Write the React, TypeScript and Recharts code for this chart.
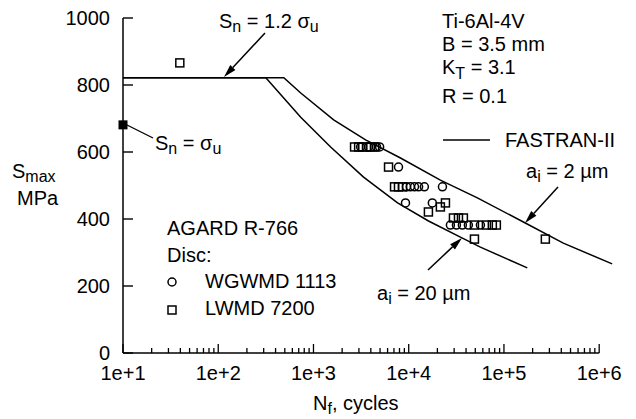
import React from "react";
import {
  ComposedChart,
  Line,
  Scatter,
  XAxis,
  YAxis,
  ReferenceLine,
  Customized,
} from "recharts";

// FASTRAN-II curves (cycles, Smax MPa)
const curve20N = [10, 316, 735, 1514, 3357, 7640, 16140, 34900, 56600, 175800];
const curve20S = [822, 822, 704, 615, 525, 448, 394, 346, 316, 254];
const curve2N = [10, 488, 735, 1629, 3524, 8200, 21500, 52600, 167500, 420000, 1368000];
const curve2S = [822, 822, 776, 696, 636, 582, 516, 463, 388, 328, 266];

// WGWMD 1113 (circles)
const wgN = [3130, 3790, 4590, 4950, 7810, 9480, 10400, 11500, 12700, 14600, 22600, 9250, 17700, 27400, 31700, 36600, 42300, 56600];
const wgS = [615, 615, 615, 615, 555, 496, 496, 496, 496, 496, 496, 448, 448, 382, 382, 382, 382, 382];

// LWMD 7200 (squares)
const lwN = [39.5, 2700, 2980, 3280, 3610, 3980, 4380, 6140, 7100, 7810, 8610, 16100, 21500, 24300, 29500, 33300, 37500, 49000, 65400, 75500, 83200, 49000, 272000];
const lwS = [866, 615, 615, 615, 615, 615, 615, 555, 496, 496, 496, 421, 436, 448, 403, 403, 403, 382, 382, 382, 382, 340, 340];

// Sn = sigma_u point
const ultN = [10];
const ultS = [681];

const yTicks = [0, 200, 400, 600, 800, 1000];
const decades = [10, 100, 1000, 10000, 100000];
const majorLabels: Record<number, string> = {
  10: "1e+1",
  100: "1e+2",
  1000: "1e+3",
  10000: "1e+4",
  100000: "1e+5",
  1000000: "1e+6",
};
const xTicks = decades
  .flatMap((d) => [1, 2, 3, 4, 5, 6, 7, 8, 9].map((m) => m * d))
  .concat([1000000]);

const zip = (ns: number[], ss: number[]) => ns.map((n, i) => ({ n, s: ss[i] }));
const curve20 = zip(curve20N, curve20S);
const curve2 = zip(curve2N, curve2S);
const wgData = zip(wgN, wgS);
const lwData = zip(lwN, lwS);
const ultData = zip(ultN, ultS);

const FONT = "'Liberation Sans', Arial, sans-serif";
const FS = 20;
const SUB = 16;
const SW = 1.5;

function XTick(props: any) {
  const { x, y, payload } = props;
  const label = majorLabels[payload.value];
  return (
    <g>
      <line x1={x} x2={x} y1={y} y2={y - (label ? 9 : 5)} stroke="#000" strokeWidth={1.3} />
      {label && (
        <text x={x} y={y + 27} textAnchor="middle" fontFamily={FONT} fontSize={FS} fill="#000">
          {label}
        </text>
      )}
    </g>
  );
}

function YTick(props: any) {
  const { x, y, payload } = props;
  return (
    <g>
      <line x1={x} x2={x + 10} y1={y} y2={y} stroke="#000" strokeWidth={1.4} />
      <text x={x - 13} y={y} dy="0.35em" textAnchor="end" fontFamily={FONT} fontSize={FS} fill="#000">
        {payload.value}
      </text>
    </g>
  );
}

const circleShape = (p: any) => (
  <circle cx={p.cx} cy={p.cy} r={4} fill="none" stroke="#000" strokeWidth={SW} />
);
const squareShape = (p: any) => (
  <rect x={p.cx - 4} y={p.cy - 4} width={8} height={8} fill="none" stroke="#000" strokeWidth={SW} />
);
const filledSquare = (p: any) => (
  <rect x={p.cx - 4.5} y={p.cy - 4.5} width={9} height={9} fill="#000" />
);

function Arrow({ x1, y1, x2, y2 }: { x1: number; y1: number; x2: number; y2: number }) {
  const a = Math.atan2(y2 - y1, x2 - x1);
  const len = 13;
  const w = 3.5;
  const bx = x2 - len * Math.cos(a);
  const by = y2 - len * Math.sin(a);
  const px = -Math.sin(a) * w;
  const py = Math.cos(a) * w;
  return (
    <g>
      <line x1={x1} y1={y1} x2={bx} y2={by} stroke="#000" strokeWidth={SW} />
      <polygon points={`${x2},${y2} ${bx + px},${by + py} ${bx - px},${by - py}`} fill="#000" />
    </g>
  );
}

function Annotations() {
  const t = { fontFamily: FONT, fontSize: FS, fill: "#000" };
  return (
    <g>
      {/* axis titles */}
      <text x={12} y={178} {...t}>
        S<tspan fontSize={SUB} dy={4}>max</tspan>
      </text>
      <text x={17} y={205} {...t}>MPa</text>
      <text x={313} y={410} {...t}>
        N<tspan fontSize={SUB} dy={4}>f</tspan>
        <tspan dy={-4}>, cycles</tspan>
      </text>

      {/* Sn = 1.2 sigma_u */}
      <text x={219} y={28} {...t}>
        S<tspan fontSize={SUB} dy={4}>n</tspan>
        <tspan dy={-4}> = 1.2 σ</tspan>
        <tspan fontSize={SUB} dy={4}>u</tspan>
      </text>
      <Arrow x1={265} y1={33} x2={224} y2={77} />

      {/* Sn = sigma_u */}
      <line x1={127} y1={125} x2={153} y2={138} stroke="#000" strokeWidth={1.3} />
      <text x={155} y={150} {...t}>
        S<tspan fontSize={SUB} dy={4}>n</tspan>
        <tspan dy={-4}> = σ</tspan>
        <tspan fontSize={SUB} dy={4}>u</tspan>
      </text>

      {/* material block */}
      <text x={442} y={28} {...t}>Ti-6Al-4V</text>
      <text x={442} y={51} {...t}>B = 3.5 mm</text>
      <text x={442} y={74} {...t}>
        K<tspan fontSize={SUB} dy={5}>T</tspan>
        <tspan dy={-5}> = 3.1</tspan>
      </text>
      <text x={442} y={103} {...t}>R = 0.1</text>

      <line x1={443} x2={490} y1={140} y2={140} stroke="#000" strokeWidth={SW} />
      <text x={505} y={147} {...t}>FASTRAN-II</text>

      {/* curve labels */}
      <text x={526} y={178} {...t}>
        a<tspan fontSize={SUB} dy={4}>i</tspan>
        <tspan dy={-4}> = 2 µm</tspan>
      </text>
      <Arrow x1={558} y1={187} x2={525} y2={223} />
      <text x={377} y={300} {...t}>
        a<tspan fontSize={SUB} dy={4}>i</tspan>
        <tspan dy={-4}> = 20 µm</tspan>
      </text>
      <Arrow x1={428} y1={270} x2={462} y2={238} />

      {/* data legend */}
      <text x={167} y={235} {...t}>AGARD R-766</text>
      <text x={167} y={262} {...t}>Disc:</text>
      <circle cx={172} cy={282} r={4} fill="none" stroke="#000" strokeWidth={SW} />
      <text x={205} y={288} {...t}>WGWMD 1113</text>
      <rect x={168} y={306} width={8} height={8} fill="none" stroke="#000" strokeWidth={SW} />
      <text x={205} y={315} {...t}>LWMD 7200</text>
    </g>
  );
}

export default function App() {
  return (
    <div style={{ position: "absolute", left: 0, top: 0, background: "#fff" }}>
      <ComposedChart
        width={636}
        height={419}
        margin={{ top: 18, right: 13, bottom: 26, left: 0 }}
      >
        <XAxis
          dataKey="n"
          type="number"
          scale="log"
          domain={[10, 1778279]}
          ticks={xTicks}
          interval={0}
          axisLine={false}
          tickLine={false}
          tickSize={0}
          tickMargin={0}
          tick={<XTick />}
          height={40}
        />
        <YAxis
          dataKey="s"
          type="number"
          domain={[0, 1000]}
          ticks={yTicks}
          interval={0}
          width={123}
          axisLine={{ stroke: "#000", strokeWidth: SW }}
          tickLine={false}
          tickSize={0}
          tickMargin={0}
          tick={<YTick />}
        />
        <ReferenceLine
          segment={[
            { x: 10, y: 0 },
            { x: 1000000, y: 0 },
          ]}
          stroke="#000"
          strokeWidth={SW}
        />
        <Line data={curve20} dataKey="s" type="linear" stroke="#000" strokeWidth={SW} dot={false} isAnimationActive={false} />
        <Line data={curve2} dataKey="s" type="linear" stroke="#000" strokeWidth={SW} dot={false} isAnimationActive={false} />
        <Scatter data={wgData} dataKey="s" shape={circleShape} isAnimationActive={false} />
        <Scatter data={lwData} dataKey="s" shape={squareShape} isAnimationActive={false} />
        <Scatter data={ultData} dataKey="s" shape={filledSquare} isAnimationActive={false} />
        <Customized component={Annotations} />
      </ComposedChart>
    </div>
  );
}
